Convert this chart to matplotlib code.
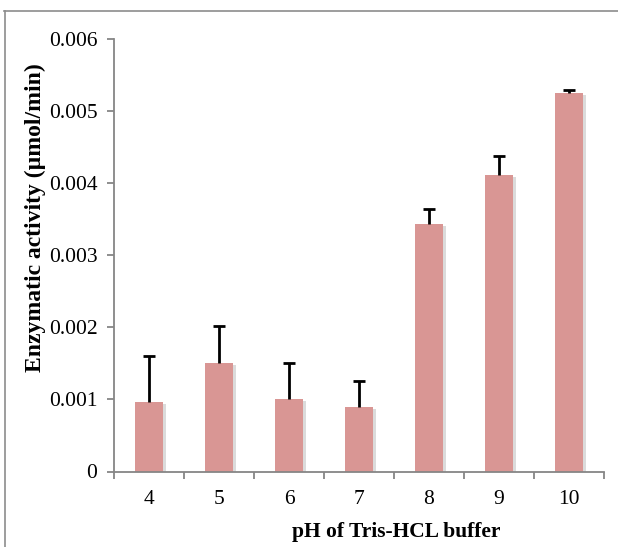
import matplotlib
matplotlib.use("Agg")
import matplotlib.pyplot as plt
from matplotlib.lines import Line2D
import matplotlib.patheffects as pe
import numpy as np

categories = ["4", "5", "6", "7", "8", "9", "10"]
values = [0.00097, 0.00150, 0.00101, 0.00089, 0.00344, 0.00411, 0.00525]
err_top = [0.00160, 0.00202, 0.00150, 0.00125, 0.00364, 0.00437, 0.00529]
errors = [t - v for t, v in zip(err_top, values)]
yticks = [0, 0.001, 0.002, 0.003, 0.004, 0.005, 0.006]
ytick_labels = ["0", "0.001", "0.002", "0.003", "0.004", "0.005", "0.006"]

plt.rcParams['font.family'] = ['Liberation Serif', 'DejaVu Serif']

fig = plt.figure(figsize=(6.18, 5.47), dpi=100)
ax = fig.add_axes([114/618, 1-471.5/547, (604-114)/618, (471.5-39)/547])

x = np.arange(len(categories))
bars = ax.bar(x, values, width=0.4, color="#D99694", zorder=2)
for b in bars:
    b.set_path_effects([pe.SimplePatchShadow(offset=(2, -1.5), shadow_rgbFace="#888888", alpha=0.3), pe.Normal()])
ax.errorbar(x, values, yerr=[np.zeros(len(values)), errors], fmt="none",
            ecolor="black", elinewidth=2, capsize=0, zorder=3)
ax.plot(x, err_top, linestyle="none", marker="_", markersize=9, markeredgewidth=2,
        color="black", zorder=3)

ax.set_xlim(-0.5, len(categories) - 0.5)
ax.set_ylim(0, 0.006)
ax.set_yticks(yticks)
ax.set_yticklabels(ytick_labels)
ax.set_xticks(x)
ax.set_xticklabels(categories)
ax.set_xticks(np.arange(-0.5, len(categories)), minor=True)
ax.tick_params(axis="x", which="major", length=0, pad=13, labelsize=15.5)
ax.tick_params(axis="x", which="minor", length=5, width=1.3, color="#868686", direction="out")
ax.tick_params(axis="y", length=5, width=1.3, color="#868686", direction="out", labelsize=15.5, pad=7)

for s in ["top", "right"]:
    ax.spines[s].set_visible(False)
for s in ["left", "bottom"]:
    ax.spines[s].set_color("#868686")
    ax.spines[s].set_linewidth(1.3)

ax.set_xlabel("pH of Tris-HCL buffer", fontsize=15.5, fontweight="bold")
ax.set_ylabel("Enzymatic activity (µmol/min)", fontsize=17, fontweight="bold")
ax.xaxis.set_label_coords((396 - 114) / 490, (471.5 - 522) / 432.5)
ax.yaxis.set_label_coords((46 - 114) / 490, (471.5 - 218) / 432.5)

fig.add_artist(Line2D([4/618, 1], [1-10.5/547, 1-10.5/547], color="#8c8c8c", lw=1.2, transform=fig.transFigure))
fig.add_artist(Line2D([4.5/618, 4.5/618], [0, 1-10.5/547], color="#8c8c8c", lw=1.2, transform=fig.transFigure))

fig.savefig("out.png", dpi=100)
